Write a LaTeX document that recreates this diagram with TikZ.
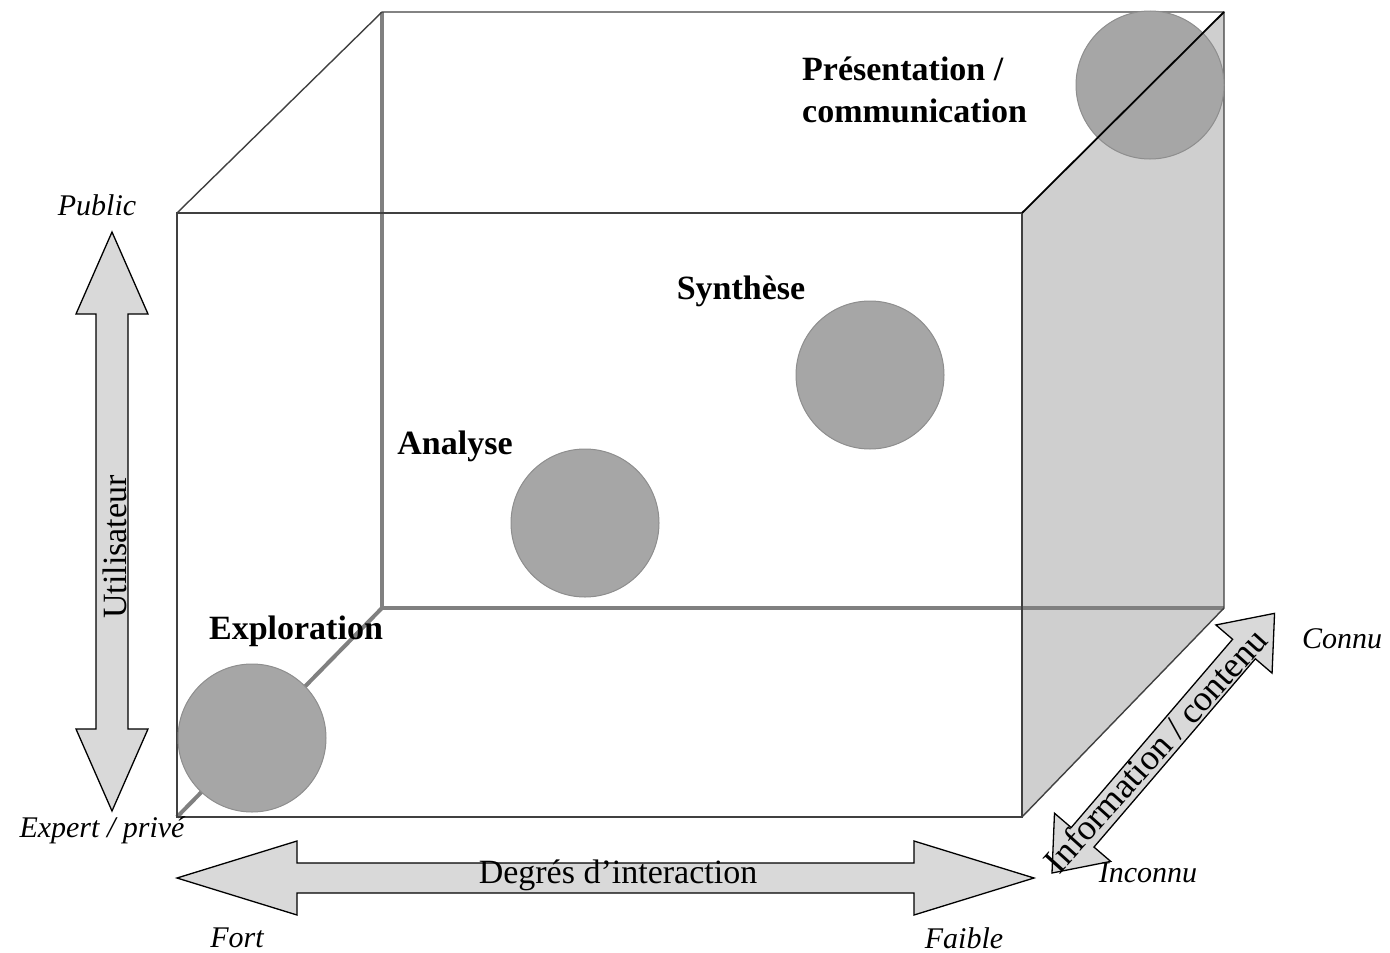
\documentclass[tikz,border=0pt]{standalone}
\usepackage{fontspec}
\setmainfont{Liberation Serif}
\usetikzlibrary{calc}
\definecolor{facegray}{HTML}{CFCFCF}
\definecolor{ballgray}{HTML}{A6A6A6}
\definecolor{balledge}{HTML}{8E8E8E}
\definecolor{arrowgray}{HTML}{D9D9D9}
\definecolor{backgray}{HTML}{808080}
\definecolor{edgegray}{HTML}{404040}
\newcommand\blockarrowpath[4]{%
  \filldraw[arrowshape] (0,0) -- (#2,#3) -- (#2,#4) -- ({#1-#2},#4) -- ({#1-#2},#3) -- (#1,0)
    -- ({#1-#2},-#3) -- ({#1-#2},-#4) -- (#2,-#4) -- (#2,-#3) -- cycle;}
\begin{document}
\begin{tikzpicture}[x=1pt,y=-1pt,
  arrowshape/.style={fill=arrowgray,draw=black,line width=1.3pt,line join=miter},
  backedge/.style={draw=backgray,line width=4pt},
  thinedge/.style={draw=edgegray,line width=1.4pt},
  ball/.style={circle,fill=ballgray,draw=balledge,line width=1pt,minimum size=148pt,inner sep=0pt},
  boldlabel/.style={font=\fontsize{34}{42}\selectfont\bfseries,inner sep=0pt},
  italiclabel/.style={font=\fontsize{30}{36}\selectfont\itshape,inner sep=0pt},
  axislabel/.style={font=\fontsize{34}{40}\selectfont,inner sep=0pt}]
\useasboundingbox (0,0) rectangle (1390,953);
% cube corners
\coordinate (FTL) at (177,213);
\coordinate (FTR) at (1022,213);
\coordinate (FBL) at (177,817);
\coordinate (FBR) at (1022,817);
\coordinate (BTL) at (382,12);
\coordinate (BTR) at (1224,12);
\coordinate (BBL) at (382,608);
\coordinate (BBR) at (1224,608);
% right face
\fill[facegray] (FTR) -- (BTR) -- (BBR) -- (FBR) -- cycle;
% hidden back edges
\draw[backedge] (BTL) -- (BBL) -- (BBR);
\draw[backedge] (BBL) -- (FBL);
% visible edges
\draw[thinedge] (FTL) -- (BTL) -- (BTR) -- (BBR) -- (FBR);
\draw[thinedge] (FTL) rectangle (FBR);
% balls
\node[ball] (bexp) at (252,738) {};
\node[ball] (bana) at (585,523) {};
\node[ball] (bsyn) at (870,375) {};
\node[ball] (bpre) at (1150,85) {};
\draw[black,line width=1.8pt] (FTR) -- (BTR);
% block arrows
\begin{scope}[shift={(112,811)},rotate=90]
  \blockarrowpath{579}{82}{36}{16}
\end{scope}
\begin{scope}[shift={(177,878)}]
  \blockarrowpath{857}{120}{37}{15}
\end{scope}
\begin{scope}[shift={(1052,873)},rotate=49.4]
  \blockarrowpath{342}{47}{37}{15}
\end{scope}
% labels
\node[boldlabel] (lexp) at (296,631) {Exploration};
\node[boldlabel] (lana) at (455,446) {Analyse};
\node[boldlabel] (lsyn) at (741,291) {Synthèse};
\node[boldlabel,align=left,anchor=west] (lpre) at (802,90) {Présentation /\\communication};
\node[italiclabel] (lpub) at (97,205) {Public};
\node[italiclabel] (lexpert) at (102,830) {Expert / privé};
\node[italiclabel] (lfort) at (237,938) {Fort};
\node[italiclabel] (lfaible) at (964,938) {Faible};
\node[italiclabel] (lconnu) at (1342,639) {Connu};
\node[italiclabel] (linconnu) at (1148,873) {Inconnu};
\node[axislabel,rotate=90] (lutil) at (115,547) {Utilisateur};
\node[axislabel] (ldeg) at (618,875) {Degrés d’interaction};
\node[axislabel,rotate=48,font=\fontsize{36}{40}\selectfont] (linfo) at (1155,750) {Information / contenu};
\end{tikzpicture}
\end{document}
